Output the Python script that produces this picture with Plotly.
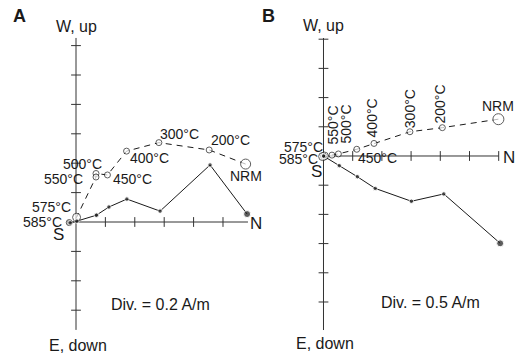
import plotly.graph_objects as go

# ---------------- data ----------------
steps = ["NRM", "200°C", "300°C", "400°C", "450°C", "500°C", "550°C", "575°C", "585°C"]

# Panel A  (Div. = 0.2 A/m), values in A/m
a_div = 0.2
a_solid_n = [1.164, 0.912, 0.572, 0.346, 0.224, 0.142, 0.138, 0.006, -0.040]
a_solid_w = [0.054, 0.388, 0.074, 0.156, 0.102, 0.048, 0.046, 0.006, -0.006]
a_open_n = [1.154, 0.906, 0.564, 0.344, 0.214, 0.136, 0.136, 0.004, -0.046]
a_open_up = [0.394, 0.490, 0.540, 0.482, 0.320, 0.330, 0.306, 0.032, -0.004]

# Panel B  (Div. = 0.5 A/m), values in A/m
b_div = 0.5
b_solid_n = [3.025, 2.060, 1.505, 0.885, 0.580, 0.270, 0.020, 0.010, 0.000]
b_solid_w = [-1.495, -0.650, -0.775, -0.555, -0.355, -0.165, -0.010, -0.005, 0.000]
b_open_n = [2.995, 2.035, 1.480, 0.865, 0.570, 0.255, 0.145, 0.015, -0.015]
b_open_up = [0.630, 0.485, 0.415, 0.215, 0.115, 0.035, 0.015, 0.000, -0.010]

# axis ticks in divisions
a_xticks = [1, 2, 3, 4, 5]
a_yticks = [-3, -2, -1, 1, 2, 3, 4, 5, 6]
b_xticks = [1, 2, 3, 4, 5, 6]
b_yticks = [-5, -4, -3, -2, -1, 1, 2, 3, 4]

# ---------------- styling ----------------
FONT = "Liberation Sans, Arial, Helvetica, sans-serif"
INK = "#1a1a1a"
AX = "#333333"

fig = go.Figure()


def add_panel(xa, ya, div, sn, sw, on, ou, xticks, yticks, hx, vy,
              open_sizes, solid_sizes, open_fill):
    fig.add_trace(go.Scatter(x=[hx[0] * div, hx[1] * div], y=[0, 0], mode="lines",
                             line=dict(color=AX, width=1), xaxis=xa, yaxis=ya,
                             hoverinfo="skip", showlegend=False))
    fig.add_trace(go.Scatter(x=[0, 0], y=[vy[0] * div, vy[1] * div], mode="lines",
                             line=dict(color=AX, width=1), xaxis=xa, yaxis=ya,
                             hoverinfo="skip", showlegend=False))
    fig.add_trace(go.Scatter(x=[t * div for t in xticks], y=[0] * len(xticks), mode="markers",
                             marker=dict(symbol="line-ns-open", size=7, color=AX,
                                         line=dict(color=AX, width=1)),
                             xaxis=xa, yaxis=ya, hoverinfo="skip", showlegend=False))
    fig.add_trace(go.Scatter(x=[0] * len(yticks), y=[t * div for t in yticks], mode="markers",
                             marker=dict(symbol="line-ew-open", size=7, color=AX,
                                         line=dict(color=AX, width=1)),
                             xaxis=xa, yaxis=ya, hoverinfo="skip", showlegend=False))
    # vertical projection (open symbols, dashed)
    fig.add_trace(go.Scatter(x=on, y=ou, mode="lines+markers",
                             line=dict(color=INK, width=1, dash="6px,5px"),
                             marker=dict(symbol="circle", size=open_sizes, color=open_fill,
                                         line=dict(color=INK, width=1)),
                             xaxis=xa, yaxis=ya, showlegend=False))
    # horizontal projection (solid symbols)
    fig.add_trace(go.Scatter(x=sn, y=sw, mode="lines+markers",
                             line=dict(color=INK, width=1),
                             marker=dict(symbol="circle", size=solid_sizes, color=INK),
                             xaxis=xa, yaxis=ya, showlegend=False))


add_panel("x", "y", a_div, a_solid_n, a_solid_w, a_open_n, a_open_up,
          a_xticks, a_yticks, (-0.3, 5.85), (-3.67, 6.26),
          [10, 6, 6, 6, 6, 6, 6, 8, 6], [7, 4.5, 4.5, 4.5, 4.5, 4.5, 4.5, 4.5, 4.5],
          ["white"] * 8 + ["#999999"])
add_panel("x2", "y2", b_div, b_solid_n, b_solid_w, b_open_n, b_open_up,
          b_xticks, b_yticks, (-0.1, 6.0), (-5.96, 4.04),
          [11, 6, 6, 6, 6, 6, 6, 8, 8], [7, 4.5, 4.5, 4.5, 4.5, 4.5, 4.5, 4.5, 4.5],
          ["white"] * 9)

ann = []


def lab(text, x, y, xs, ys, xref, yref, size=14, angle=0, bold=False):
    ann.append(dict(text=("<b>%s</b>" % text) if bold else text, x=x, y=y, xref=xref, yref=yref,
                    xshift=xs, yshift=ys, showarrow=False, textangle=angle,
                    xanchor="center", yanchor="middle",
                    font=dict(family=FONT, size=size, color=INK)))


# temperature labels, panel A (offsets in px from the open points)
a_shift = [(0, -11.5), (21, 9.5), (21, 8.5), (23, -6.5), (25, -4.5),
           (-13, 9), (-32, -2), (-25, 10.5), (-27, 1)]
for s, x, y, (xs, ys) in zip(steps, a_open_n, a_open_up, a_shift):
    lab(s, x, y, xs, ys, "x", "y")

# temperature labels, panel B
b_shift = [(0, 13, 0), (-2, 23.5, -90), (0, 23.5, -90), (-2.5, 25.5, -90), (21, -8.7, 0),
           (7.7, 29.5, -90), (1, 30.5, -90), (-20.5, 8.5, 0), (-24.5, -2.5, 0)]
for s, x, y, (xs, ys, ang) in zip(steps, b_open_n, b_open_up, b_shift):
    lab(s, x, y, xs, ys, "x2", "y2", angle=ang)

# axis labels panel A
lab("W, up", 0, 6.26 * a_div, 0, 11, "x", "y", size=16)
lab("E, down", 0, -3.67 * a_div, 2, -16, "x", "y", size=16)
lab("N", 5.85 * a_div, 0, 8, -1.5, "x", "y", size=17)
lab("S", 0, 0, -17.5, -12.5, "x", "y", size=17)
lab("Div. = 0.2 A/m", 2.89 * a_div, -2.82 * a_div, 0, 0, "x", "y", size=16)
lab("A", 0.037, 0.957, 0, 0, "paper", "paper", size=18, bold=True)

# axis labels panel B
lab("W, up", 0, 4.04 * b_div, 0, 13, "x2", "y2", size=16)
lab("E, down", 0, -5.96 * b_div, 2, -13.5, "x2", "y2", size=16)
lab("N", 6.0 * b_div, 0, 10, -1.5, "x2", "y2", size=17)
lab("S", 0, 0, -6.5, -15.5, "x2", "y2", size=17)
lab("Div. = 0.5 A/m", 3.65 * b_div, -5.02 * b_div, 0, 0, "x2", "y2", size=16)
lab("B", 0.506, 0.957, 0, 0, "paper", "paper", size=18, bold=True)

hidden = dict(visible=False, showgrid=False, zeroline=False)
fig.update_layout(
    width=530, height=362,
    margin=dict(l=0, r=0, t=0, b=0),
    paper_bgcolor="white", plot_bgcolor="white",
    hovermode=False,
    xaxis=dict(domain=[0, 0.5], range=[-2.585 * a_div, 6.429 * a_div], **hidden),
    yaxis=dict(domain=[0, 1], range=[-4.762 * a_div, 7.551 * a_div], **hidden),
    xaxis2=dict(domain=[0.5, 1], range=[-2.003 * b_div, 7.072 * b_div], **hidden),
    yaxis2=dict(domain=[0, 1], range=[-7.055 * b_div, 5.342 * b_div], anchor="x2", **hidden),
    annotations=ann,
)

fig.write_html("out.html", config={"displayModeBar": False, "staticPlot": True},
               post_script="document.body.style.margin='0';")
